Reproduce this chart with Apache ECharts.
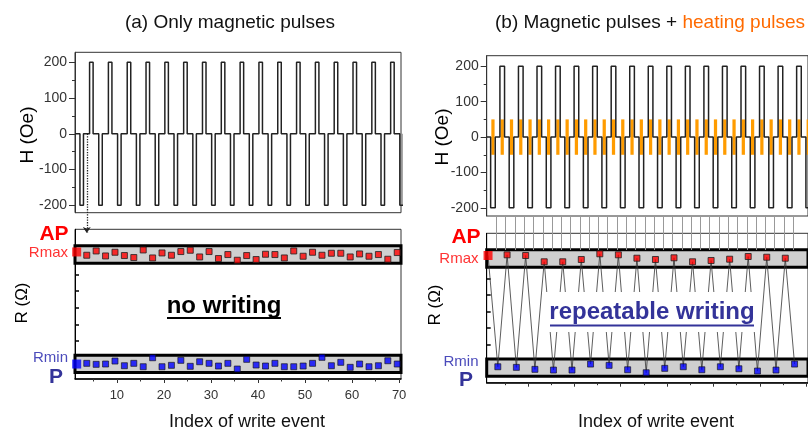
<!DOCTYPE html>
<html>
<head>
<meta charset="utf-8">
<title>Write events: magnetic pulses / heating pulses</title>
<script src="https://cdn.jsdelivr.net/npm/echarts@6.0.0/dist/echarts.min.js"></script>
<style>html,body{margin:0;padding:0;background:#fff;}</style>
</head>
<body>
<div id="main" style="width:808px;height:430px;"></div>
<script type="text/javascript">
var myChart = echarts.init(document.getElementById('main'));
var FONT = '"Liberation Sans", Arial, sans-serif';

// axis ticks
var xTicks = [10, 20, 30, 40, 50, 60, 70];
var xMinorTicks = [5, 15, 25, 35, 45, 55, 65];
var hTicks = [-200, -100, 0, 100, 200];
var hMinorTicks = [-150, -50, 50, 150];
var rTicks = [38, 54.7, 71.3, 88, 104.7];
var X_MIN = 1.1, X_MAX = 70.4;

// (a) only magnetic pulses : start of each field pulse (Oe = -200 / +200)
var aNegStart = [2.15, 6.15, 10.15, 14.15, 18.15, 22.15, 26.15, 30.15, 34.15, 38.15, 42.15, 46.15, 50.15, 54.15, 58.15, 62.15, 66.15, 70.15];
var aPosStart = [4.2, 8.2, 12.2, 16.2, 20.2, 24.2, 28.2, 32.2, 36.2, 40.2, 44.2, 48.2, 52.2, 56.2, 60.2, 64.2, 68.2];
// (a) resistance read after each write event
var aIdx = [3.6, 5.6, 7.6, 9.6, 11.6, 13.6, 15.6, 17.6, 19.6, 21.6, 23.6, 25.6, 27.6, 29.6, 31.6, 33.6, 35.6,
            37.6, 39.6, 41.6, 43.6, 45.6, 47.6, 49.6, 51.6, 53.6, 55.6, 57.6, 59.6, 61.6, 63.6, 65.6, 67.6, 69.6];
var aRmax = [124, 128.3, 123.3, 127, 123.7, 121.7, 129.3, 121.3, 126.3, 124, 127.7, 129, 122.3, 127.7, 120.7, 124.7, 119,
             123.7, 119.7, 125, 124.7, 121.3, 128.3, 123, 127, 124, 126, 126, 122.3, 125.3, 123, 124.7, 120, 126.7];
var aRmin = [15.7, 14.7, 15, 18, 13.3, 15.7, 12.3, 21.3, 12.3, 13.7, 18.7, 12.7, 17.3, 15.7, 13, 15.7, 10,
             19.7, 14, 13, 15.7, 12.3, 12.3, 13, 15.7, 21.7, 13.3, 16.7, 11.7, 15, 12.3, 13.3, 18.3, 15];
var aInit = [1.46, 127.3, 15];   // index, initial Rmax, initial Rmin

// (b) magnetic + heating pulses
var bNegStart = [1.95, 5.95, 9.95, 13.95, 17.95, 21.95, 25.95, 29.95, 33.95, 37.95, 41.95, 45.95, 49.95, 53.95, 57.95, 61.95, 65.95, 69.95];
var bPosStart = [3.95, 7.95, 11.95, 15.95, 19.95, 23.95, 27.95, 31.95, 35.95, 39.95, 43.95, 47.95, 51.95, 55.95, 59.95, 63.95, 67.95];
var bIdxP = [3.5, 7.5, 11.5, 15.5, 19.5, 23.5, 27.5, 31.5, 35.5, 39.5, 43.5, 47.5, 51.5, 55.5, 59.5, 63.5, 67.5];
var bRmin = [16, 15.4, 13.4, 12.7, 12.7, 18.7, 17.4, 13, 10, 14.4, 16, 13, 16, 14, 11.7, 12.7, 18.7];
var bIdxAP = [5.5, 9.5, 13.5, 17.5, 21.5, 25.5, 29.5, 33.5, 37.5, 41.5, 45.5, 49.5, 53.5, 57.5, 61.5, 65.5];
var bRmax = [128.4, 127.7, 121.4, 121.4, 123.7, 129.4, 128.4, 125, 123.7, 125.4, 121.4, 122.7, 124, 126.7, 126, 125];
var bInit = [1.39, 127.7];

var fieldAmp = 200, heatAmp = 50;
var bandAP = [116, 133.5], bandP = [6.5, 23.8];

function pulseTrain(neg, pos, w) {
    var p = neg.map(function (s) { return [s, -fieldAmp]; })
        .concat(pos.map(function (s) { return [s, fieldAmp]; }))
        .sort(function (a, b) { return a[0] - b[0]; });
    var pts = [[X_MIN, 0]];
    p.forEach(function (q) {
        pts.push([q[0], 0], [q[0], q[1]], [q[0] + w, q[1]], [q[0] + w, 0]);
    });
    return pts;
}
function zip(xs, ys) { return xs.map(function (x, i) { return [x, ys[i]]; }); }

var bAll = zip(bIdxP, bRmin).concat(zip(bIdxAP, bRmax)).sort(function (a, b) { return a[0] - b[0]; });
var zigzag = [bInit].concat(bAll);

function hAxes(grid, min, max) {
    return [{
        gridIndex: grid, type: 'value', min: min, max: max, position: 'left',
        axisLine: { show: true, lineStyle: { color: '#333' } },
        axisTick: { show: true, length: 6, customValues: hTicks, lineStyle: { color: '#333' } },
        axisLabel: { customValues: hTicks, color: '#333', fontSize: 14, fontFamily: FONT, margin: 8 },
        splitLine: { show: false }
    }, {
        gridIndex: grid, type: 'value', min: min, max: max, position: 'left',
        axisLine: { show: false },
        axisTick: { show: true, length: 3, customValues: hMinorTicks, lineStyle: { color: '#333' } },
        axisLabel: { show: false }, splitLine: { show: false }
    }];
}
function rAxis(grid) {
    return {
        gridIndex: grid, type: 'value', min: 0, max: 150,
        axisLine: { show: true, lineStyle: { color: '#000' } },
        axisTick: { show: true, inside: true, length: 4, customValues: rTicks, lineStyle: { color: '#000', width: 1.5 } },
        axisLabel: { show: false }, splitLine: { show: false }
    };
}
function idxAxes(grid, labels) {
    return [{
        gridIndex: grid, type: 'value', min: X_MIN, max: X_MAX, position: 'bottom',
        axisLine: { show: true, lineStyle: { color: '#000', width: 1.5 } },
        axisTick: { show: true, length: 4, customValues: xTicks, lineStyle: { color: '#333' } },
        axisLabel: { show: labels, customValues: xTicks, color: '#333', fontSize: 13, fontFamily: FONT, margin: 10 },
        splitLine: { show: false }
    }, {
        gridIndex: grid, type: 'value', min: X_MIN, max: X_MAX, position: 'bottom',
        axisLine: { show: false },
        axisTick: { show: true, length: 2.5, customValues: xMinorTicks, lineStyle: { color: '#333' } },
        axisLabel: { show: false }, splitLine: { show: false }
    }];
}
function hidden(grid, min, max) {
    return { gridIndex: grid, type: 'value', min: min, max: max, show: false };
}

var box = { show: true, borderColor: '#333', borderWidth: 1, backgroundColor: 'transparent' };

// axis indices
// xAxis: 0 (a)H, 1-2 (a)R, 3 (b)H, 4-5 (b)R, 6 arrow, 7 connectors
// yAxis: 0-1 (a)H, 2 (a)R, 3-4 (b)H, 5 (b)R, 6 arrow, 7 connectors
var option = {
    animation: false,
    grid: [
        Object.assign({ left: 75, top: 52.3, width: 326, height: 160.4 }, box),
        Object.assign({ left: 75, top: 229.3, width: 326, height: 149.7 }, box),
        Object.assign({ left: 486.7, top: 55.7, width: 326, height: 160.3 }, box),
        Object.assign({ left: 486.7, top: 233.3, width: 326, height: 149.4 }, box),
        { left: 75, top: 133.7, width: 326, height: 99.3, show: false },
        { left: 486.7, top: 216, width: 326, height: 34, show: false }
    ],
    xAxis: [hidden(0, X_MIN, X_MAX)]
        .concat(idxAxes(1, true))
        .concat([hidden(2, X_MIN, X_MAX)])
        .concat(idxAxes(3, false))
        .concat([hidden(4, X_MIN, X_MAX), hidden(5, X_MIN, X_MAX)]),
    yAxis: hAxes(0, -221, 228)
        .concat([rAxis(1)])
        .concat(hAxes(2, -223, 230))
        .concat([rAxis(3), hidden(4, 0, 1), hidden(5, 0, 1)]),
    series: [
        // ---- (a)
        {
            type: 'line', xAxisIndex: 0, yAxisIndex: 0, data: pulseTrain(aNegStart, aPosStart, 0.75),
            showSymbol: false, lineStyle: { color: '#222', width: 1.5 }, z: 3
        },
        {
            type: 'scatter', xAxisIndex: 1, yAxisIndex: 2, data: [], z: 1,
            markArea: {
                silent: true,
                itemStyle: { color: '#cfcfcf', borderColor: '#000', borderWidth: 3 },
                data: [[{ yAxis: bandAP[0] }, { yAxis: bandAP[1] }], [{ yAxis: bandP[0] }, { yAxis: bandP[1] }]]
            }
        },
        {
            type: 'scatter', xAxisIndex: 1, yAxisIndex: 2, data: zip(aIdx, aRmax), symbol: 'rect', symbolSize: 6,
            itemStyle: { color: '#ff0000', borderColor: '#222', borderWidth: 1 }, z: 4
        },
        {
            type: 'scatter', xAxisIndex: 1, yAxisIndex: 2, data: zip(aIdx, aRmin), symbol: 'rect', symbolSize: 6,
            itemStyle: { color: '#0000ff', borderColor: '#111', borderWidth: 0.8 }, z: 4
        },
        {
            type: 'scatter', xAxisIndex: 1, yAxisIndex: 2, symbol: 'rect', symbolSize: 9, clip: false, z: 5,
            data: [
                { value: [aInit[0], aInit[1]], itemStyle: { color: '#ff0000' } },
                { value: [aInit[0], aInit[2]], itemStyle: { color: '#0000ff' } }
            ]
        },
        {
            type: 'lines', coordinateSystem: 'cartesian2d', xAxisIndex: 6, yAxisIndex: 6, z: 6,
            symbol: ['none', 'arrow'], symbolSize: 6,
            lineStyle: { color: '#222', width: 1.3, type: 'dotted', opacity: 1 },
            data: [{ coords: [[aIdx[0], 1], [aIdx[0], 0]] }]
        },
        // ---- (b)
        {
            type: 'custom', xAxisIndex: 3, yAxisIndex: 3, z: 2,
            data: bNegStart.concat(bPosStart).map(function (s) { return [s, 0]; }),
            renderItem: function (params, api) {
                var s = api.value(0);
                var p1 = api.coord([s + 0.15, heatAmp]);
                var p2 = api.coord([s + 0.85, -heatAmp]);
                return {
                    type: 'rect',
                    shape: { x: p1[0], y: p1[1], width: p2[0] - p1[0], height: p2[1] - p1[1] },
                    style: { fill: '#ff9c00' }
                };
            }
        },
        {
            type: 'line', xAxisIndex: 3, yAxisIndex: 3, data: pulseTrain(bNegStart, bPosStart, 1.0),
            showSymbol: false, lineStyle: { color: '#222', width: 1.5 }, z: 3
        },
        {
            type: 'scatter', xAxisIndex: 4, yAxisIndex: 5, data: [], z: 1,
            markArea: {
                silent: true,
                itemStyle: { color: '#cfcfcf', borderColor: '#000', borderWidth: 3 },
                data: [[{ yAxis: bandAP[0] }, { yAxis: bandAP[1] }], [{ yAxis: bandP[0] }, { yAxis: bandP[1] }]]
            }
        },
        {
            type: 'line', xAxisIndex: 4, yAxisIndex: 5, data: zigzag, showSymbol: false,
            lineStyle: { color: '#333', width: 0.8 }, z: 3
        },
        {
            type: 'scatter', xAxisIndex: 4, yAxisIndex: 5, data: zip(bIdxAP, bRmax), symbol: 'rect', symbolSize: 6,
            itemStyle: { color: '#ff0000', borderColor: '#222', borderWidth: 1 }, z: 4
        },
        {
            type: 'scatter', xAxisIndex: 4, yAxisIndex: 5, data: zip(bIdxP, bRmin), symbol: 'rect', symbolSize: 6,
            itemStyle: { color: '#0000ff', borderColor: '#111', borderWidth: 0.8 }, z: 4
        },
        {
            type: 'scatter', xAxisIndex: 4, yAxisIndex: 5, symbol: 'rect', symbolSize: 9, clip: false, z: 5,
            data: [{ value: bInit, itemStyle: { color: '#ff0000' } }]
        },
        {
            type: 'lines', coordinateSystem: 'cartesian2d', xAxisIndex: 7, yAxisIndex: 7, z: 1,
            lineStyle: { color: '#999', width: 1, opacity: 1 },
            data: bAll.map(function (p) { return { coords: [[p[0] - 0.3, 1], [p[0] - 0.3, 0]] }; })
        }
    ],
    graphic: [
        { type: 'text', x: 230, y: 23, style: { text: '(a) Only magnetic pulses', font: '19px ' + FONT, fill: '#111', align: 'center', verticalAlign: 'middle' } },
        {
            type: 'text', x: 495, y: 23,
            style: {
                text: '{a|(b) Magnetic pulses + }{b|heating pulses}', verticalAlign: 'middle',
                rich: { a: { font: '19px ' + FONT, fill: '#111' }, b: { font: '19px ' + FONT, fill: '#ff6a00' } }
            }
        },
        { type: 'text', x: 28, y: 135, rotation: Math.PI / 2, style: { text: 'H (Oe)', font: '19px ' + FONT, fill: '#000', align: 'center', verticalAlign: 'middle' } },
        { type: 'text', x: 443, y: 137, rotation: Math.PI / 2, style: { text: 'H (Oe)', font: '19px ' + FONT, fill: '#000', align: 'center', verticalAlign: 'middle' } },
        { type: 'text', x: 22, y: 303, rotation: Math.PI / 2, style: { text: 'R (Ω)', font: '17px ' + FONT, fill: '#000', align: 'center', verticalAlign: 'middle' } },
        { type: 'text', x: 435, y: 305, rotation: Math.PI / 2, style: { text: 'R (Ω)', font: '17px ' + FONT, fill: '#000', align: 'center', verticalAlign: 'middle' } },

        { type: 'text', x: 54, y: 234, style: { text: 'AP', font: 'bold 21px ' + FONT, fill: '#ff0000', align: 'center', verticalAlign: 'middle' } },
        { type: 'text', x: 68, y: 253, style: { text: 'Rmax', font: '15px ' + FONT, fill: '#ff3333', align: 'right', verticalAlign: 'middle' } },
        { type: 'text', x: 68, y: 357.5, style: { text: 'Rmin', font: '15px ' + FONT, fill: '#4b4bbb', align: 'right', verticalAlign: 'middle' } },
        { type: 'text', x: 56, y: 377, style: { text: 'P', font: 'bold 21px ' + FONT, fill: '#333399', align: 'center', verticalAlign: 'middle' } },
        { type: 'text', x: 466, y: 237, style: { text: 'AP', font: 'bold 21px ' + FONT, fill: '#ff0000', align: 'center', verticalAlign: 'middle' } },
        { type: 'text', x: 478.5, y: 258.5, style: { text: 'Rmax', font: '15px ' + FONT, fill: '#ff3333', align: 'right', verticalAlign: 'middle' } },
        { type: 'text', x: 478.5, y: 361.5, style: { text: 'Rmin', font: '15px ' + FONT, fill: '#4b4bbb', align: 'right', verticalAlign: 'middle' } },
        { type: 'text', x: 466, y: 380, style: { text: 'P', font: 'bold 21px ' + FONT, fill: '#333399', align: 'center', verticalAlign: 'middle' } },

        { type: 'text', x: 224, y: 306.5, style: { text: 'no writing', font: 'bold 24px ' + FONT, fill: '#000', align: 'center', verticalAlign: 'middle' } },
        { type: 'line', shape: { x1: 167, y1: 318, x2: 281, y2: 318 }, style: { stroke: '#000', lineWidth: 2 } },
        { type: 'rect', z: 50, shape: { x: 542, y: 292, width: 215, height: 40 }, style: { fill: '#fff' } },
        { type: 'text', z: 51, x: 652, y: 312.5, style: { text: 'repeatable writing', font: 'bold 24px ' + FONT, fill: '#333399', align: 'center', verticalAlign: 'middle' } },
        { type: 'line', z: 51, shape: { x1: 550, y1: 325.5, x2: 754, y2: 325.5 }, style: { stroke: '#333399', lineWidth: 2 } },

        { type: 'text', x: 247, y: 422, style: { text: 'Index of write event', font: '18px ' + FONT, fill: '#111', align: 'center', verticalAlign: 'middle' } },
        { type: 'text', x: 656, y: 422, style: { text: 'Index of write event', font: '18px ' + FONT, fill: '#111', align: 'center', verticalAlign: 'middle' } }
    ]
};

myChart.setOption(option);
</script>
</body>
</html>
